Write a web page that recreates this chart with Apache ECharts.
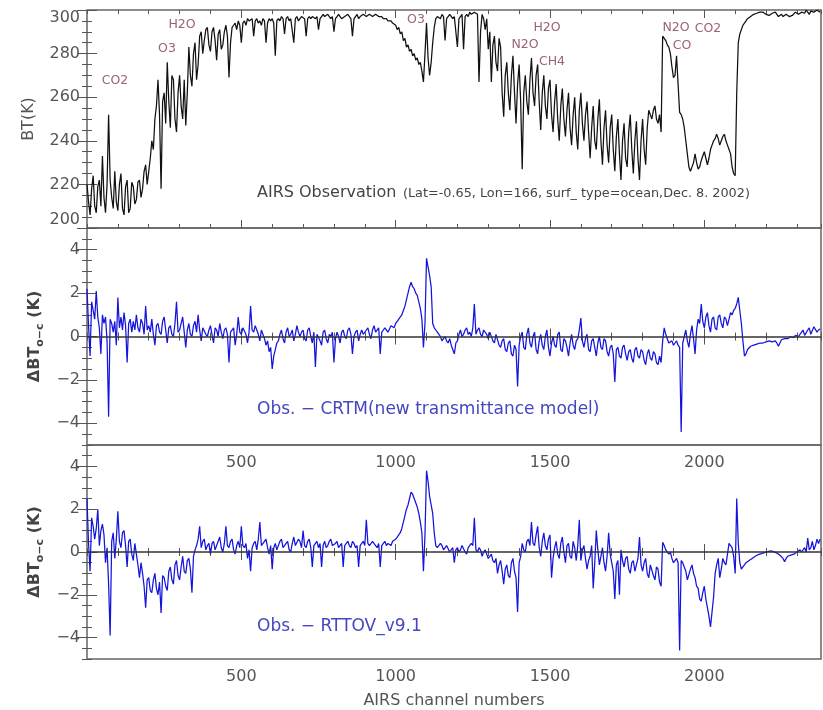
<!DOCTYPE html>
<html>
<head>
<meta charset="UTF-8">
<title>AIRS observation and O-C</title>
<style>
  html, body { margin: 0; padding: 0; background: #fff; }
  #chart { width: 823px; height: 710px; }
</style>
</head>
<body>
<div id="chart"></div>
<script src="https://cdn.jsdelivr.net/npm/echarts@6/dist/echarts.min.js"></script>
<script>
const chStep = 5;

// top panel: observed brightness temperature (K)
const btObs = [
  220, 212, 206, 218, 224, 210, 207, 219, 222, 210, 233, 214, 207, 220, 252, 222, 214, 209, 226, 212,
  208, 220, 225, 209, 206, 219, 222, 207, 209, 221, 219, 211, 213, 221, 222, 214, 218, 226, 229, 220,
  226, 232, 240, 236, 250, 256, 268, 252, 218, 258, 262, 248, 276, 258, 246, 270, 268, 250, 244, 262,
  270, 256, 250, 268, 247, 262, 283, 270, 265, 280, 285, 268, 275, 288, 290, 280, 286, 291, 292, 284,
  281, 290, 292, 286, 277, 289, 291, 282, 284, 290, 293, 288, 269, 285, 292, 293, 294, 291, 295, 293,
  285, 294, 295, 293, 296, 295, 295, 296, 288, 295, 296, 294, 295, 293, 296, 295, 285, 294, 296, 295,
  296, 294, 279, 295, 296, 295, 297, 296, 289, 296, 297, 295, 296, 296, 285, 296, 297, 295, 296, 297,
  297, 296, 288, 296, 297, 296, 297, 297, 296, 297, 291, 296, 297, 298, 297, 297, 298, 297, 296, 297,
  290, 296, 297, 298, 297, 296, 296, 297, 297, 298, 297, 296, 288, 296, 297, 298, 296, 297, 297, 298,
  298, 297, 297, 298, 298, 297, 297, 298, 298, 297, 297, 297, 296, 296, 296, 295, 295, 295, 294, 294,
  293, 291, 292, 289, 290, 286, 287, 283, 284, 281, 282, 279, 280, 277, 278, 275, 276, 272, 267, 280,
  294, 278, 270, 276, 285, 292, 296, 297, 297, 296, 298, 297, 286, 296, 297, 298, 298, 296, 297, 297,
  283, 296, 297, 298, 282, 297, 298, 297, 299, 298, 298, 299, 299, 298, 267, 290, 298, 296, 291, 296,
  282, 290, 267, 284, 288, 276, 272, 287, 283, 262, 251, 270, 276, 262, 254, 270, 279, 262, 248, 266,
  275, 258, 227, 262, 270, 258, 252, 268, 278, 262, 256, 270, 275, 258, 245, 262, 270, 256, 250, 264,
  268, 252, 244, 258, 266, 250, 240, 256, 264, 250, 242, 254, 262, 246, 238, 252, 260, 244, 236, 254,
  262, 248, 240, 252, 258, 244, 232, 246, 256, 240, 236, 250, 259, 240, 229, 246, 254, 238, 230, 246,
  252, 236, 226, 242, 250, 234, 222, 240, 248, 232, 228, 244, 252, 236, 225, 240, 249, 232, 222, 240,
  250, 236, 229, 246, 254, 252, 250, 254, 256, 250, 248, 252, 244, 288, 288, 286, 284, 283, 280, 274,
  269, 270, 279, 266, 253, 252, 250, 246, 240, 234, 228, 226, 226, 230, 234, 230, 227, 228, 231, 233,
  235, 232, 229, 232, 236, 238, 240, 241, 243, 241, 238, 240, 242, 243, 240, 238, 236, 234, 228, 225,
  224, 262, 285, 289, 291, 293, 294, 295, 296, 296.5, 297, 297.5, 298, 298, 298.5, 299, 299, 298.5, 299, 298.5,
  298, 298.5, 297.5, 298, 298.5, 299, 299, 298, 297, 297.5, 298, 297, 297, 298, 298, 297, 296.5, 297.5, 298, 299,
  299.5, 298, 297.5, 299, 299.5, 298.5, 300, 299, 298, 299.5, 300, 299, 298.5, 300, 300, 299
];

// middle panel: obs - CRTM (K)
const dCrtm = [
  2.2, 0.5, -0.9, 1.6, 1.2, 0.8, 2.1, 0.9, 0.4, -0.8, 1.0, 0.6, 0.9, -0.2, -3.7, 0.8, 0.6, 0.2, 0.7, -0.4,
  1.8, 0.4, 0.9, 0.3, 1.1, 0.5, -1.2, 0.6, 0.8, 0.2, 0.7, 0.3, 1.0, 0.4, 0.2, 0.8, 0.6, 0.1, 1.4, 0.3,
  0.5, 0.2, 0.8, 0.1, -0.4, 0.5, 0.6, 0.2, 0.1, 0.7, 0.9, 0.3, -0.3, 0.4, 0.5, 0.1, 0.0, 0.6, 1.6, 0.2,
  0.3, 0.6, 0.9, 0.2, -0.5, 0.3, 0.6, 0.1, 0.0, 0.5, 0.7, 0.2, 1.0, 0.3, -0.2, 0.4, 0.4, 0.1, 0.0, 0.3,
  0.5, 0.1, -0.3, 0.4, 0.3, 0.0, 0.6, 0.2, -0.1, 0.3, 0.4, 0.1, -1.2, 0.2, 0.2, 0.4, -0.4, 0.1, 0.9, 0.2,
  0.1, 0.4, 0.4, 0.1, -0.3, 0.2, 1.4, 0.3, 0.2, 0.5, 0.5, 0.1, -0.2, 0.3, 0.3, -0.1, -0.4, -0.2, -0.7, -0.5,
  -1.5, -0.9, -0.6, -0.3, -0.2, 0.1, 0.3, -0.1, -0.3, 0.2, 0.4, 0.0, 0.1, 0.3, -0.2, 0.1, 0.5, 0.2, 0.0, 0.2,
  0.3, -0.1, -0.2, 0.3, 0.4, 0.0, -0.3, 0.2, -1.4, 0.1, 0.1, -0.2, -0.4, 0.2, 0.3, -0.1, -0.3, 0.1, 0.0, 0.2,
  -1.2, -0.1, 0.2, 0.0, -0.3, 0.2, 0.3, 0.0, -0.1, 0.3, 0.4, 0.1, -0.8, 0.0, 0.2, 0.3, -0.2, 0.1, 0.3, 0.1,
  0.1, 0.3, 0.4, 0.1, -0.1, 0.3, 0.5, 0.2, 0.2, 0.4, -0.8, 0.2, 0.3, 0.4, 0.4, 0.2, 0.2, 0.5, 0.5, 0.4,
  0.6, 0.7, 0.8, 0.9, 1.0, 1.2, 1.4, 1.7, 2.0, 2.3, 2.5, 2.3, 2.2, 2.0, 1.9, 1.6, 1.3, 0.8, -0.5, 0.6,
  3.6, 3.2, 2.8, 2.3, 0.6, 0.4, 0.3, 0.2, 0.1, 0.0, -0.2, -0.1, 0.0, -0.2, -0.3, -0.1, -0.4, -0.6, -0.8, -0.3,
  -0.2, 0.1, 0.3, 0.0, 0.1, 0.3, 0.4, 0.1, 0.2, 0.0, 0.4, 1.5, 0.1, 0.3, 0.4, 0.1, 0.0, 0.3, 0.3, 0.1,
  -0.1, 0.2, 0.2, -0.2, -0.3, 0.1, 0.1, -0.4, -0.5, -0.2, -0.1, -0.6, -0.7, -0.3, -0.2, -0.8, -0.9, -0.4, -0.6, -2.3,
  -0.4, 0.0, 0.2, -0.5, -0.6, 0.1, 0.4, -0.3, -0.5, 0.0, 0.2, -0.6, -0.8, -0.2, 0.1, -0.4, -0.6, 0.0, 0.3, -0.5,
  -0.9, -0.3, 0.0, -0.4, -0.5, 0.1, 0.2, -0.6, -0.7, -0.1, -0.2, -0.5, -0.9, -0.3, 0.1, -0.4, -0.6, -0.2, -0.1, 0.3,
  0.85, -0.2, -0.5, -0.1, 0.1, -0.6, -0.7, -0.2, -0.1, -0.5, -0.9, -0.3, 0.0, -0.5, -0.6, -0.1, -0.2, -0.7, -0.9, -0.5,
  -0.4, -0.8, -2.1, -0.6, -0.5, -0.9, -1.0, -0.5, -0.4, -0.8, -1.1, -0.7, -0.6, -1.0, -1.2, -0.6, -0.5, -0.9, -1.0, -0.6,
  -0.7, -1.1, -1.3, -0.8, -0.6, -1.0, -1.1, -0.7, -0.8, -1.2, -1.3, -0.9, -1.2, -0.2, 0.4, 0.1, -0.1, -0.3, -0.3, -0.2,
  -0.4, -0.3, -0.2, -0.4, -0.5, -4.4, -0.3, 0.0, 0.3, -0.2, -0.5, 0.1, 0.5, -0.1, -0.8, 0.3, 0.8, 0.6, 1.5, 0.7,
  0.4, 0.9, 1.1, 0.5, 0.2, 0.8, 0.9, 0.4, 0.3, 0.9, 1.0, 0.6, 0.4, 0.9, 0.8, 0.5, 0.5, 1.1, 1.0, 1.2,
  1.3, 1.5, 1.8, 1.2, 0.6, -0.2, -0.9, -0.8, -0.6, -0.55, -0.45, -0.45, -0.4, -0.4, -0.35, -0.35, -0.3, -0.3, -0.3, -0.28,
  -0.25, -0.25, -0.2, -0.22, -0.25, -0.2, -0.2, -0.3, -0.45, -0.3, -0.15, -0.12, -0.1, -0.1, -0.1, -0.05, 0.0, -0.05, -0.05, 0.05,
  0.1, 0.0, 0.0, 0.2, 0.3, 0.05, 0.05, 0.3, 0.4, 0.1, 0.1, 0.45, 0.5, 0.2, 0.3, 0.35
];

// bottom panel: obs - RTTOV v9.1 (K)
const dRttov = [
  2.5, 0.4, -0.9, 1.6, 1.2, 0.6, 1.1, 2.0, 0.3, 1.0, 1.3, 0.8, -0.5, 0.2, -1.5, -3.9, 0.5, 0.9, -0.3, 0.6,
  1.9, 0.5, 0.2, 0.9, 1.0, 0.3, -0.7, 0.5, 0.6, -0.1, -0.4, 0.4, 0.4, -0.6, -1.2, -0.5, -1.0, -1.6, -2.6, -1.3,
  -1.2, -1.8, -1.9, -1.3, -1.0, -1.7, -2.0, -1.4, -2.85, -1.1, -1.2, -1.6, -1.8, -0.9, -0.7, -1.3, -1.5, -0.6, -0.4, -1.1,
  -1.3, -0.7, -0.2, -0.9, -1.0, -0.4, -0.3, -0.8, -1.9, -0.2, 0.1, 0.3, 0.6, 1.2, 0.2, 0.5, 0.6, 0.1, 0.3, 0.4,
  -0.1, 0.4, 0.5, 0.1, 0.1, 0.5, 0.7, 0.2, 0.0, 0.4, 1.2, 0.3, 0.2, 0.5, 0.6, 0.1, -0.1, 0.3, 0.5, 0.2,
  1.2, 0.3, 0.2, 0.4, -0.3, 0.1, -0.9, 0.2, 0.4, 0.5, 0.1, 0.6, 1.4, 0.3, 0.3, 0.5, 0.6, 0.2, -0.1, 0.3,
  -0.8, 0.2, 0.4, 0.1, 0.1, 0.5, 0.6, 0.2, 0.2, 0.4, 0.5, 0.1, 0.0, 0.4, 0.7, 0.3, 0.3, 0.6, 0.5, 0.2,
  1.0, 0.3, 0.2, 0.5, 0.6, 0.2, -0.7, 0.3, 0.4, 0.5, 0.2, 0.4, -0.7, 0.3, 0.5, 0.2, 0.3, 0.5, 0.6, 0.3,
  0.3, 0.4, 0.5, 0.2, 0.2, 0.4, -0.7, 0.3, 0.4, 0.5, 0.3, 0.2, 0.5, 0.4, 0.2, 0.3, -0.7, 0.3, 0.4, 0.5,
  0.3, 1.5, 0.4, 0.3, 0.3, 0.5, 0.5, 0.3, 0.2, 0.4, -0.7, 0.3, 0.4, 0.5, 0.3, 0.4, 0.4, 0.3, 0.5, 0.5,
  0.6, 0.7, 0.75, 0.9, 1.1, 1.4, 1.7, 2.0, 2.2, 2.5, 2.8, 2.7, 2.5, 2.3, 2.1, 1.8, 1.4, 0.9, -0.9, 0.8,
  3.8, 3.3, 2.6, 2.2, 1.8, 0.9, 0.3, 0.2, 0.2, 0.4, 0.3, 0.1, 0.1, 0.3, 0.3, 0.0, 0.0, 0.2, -0.5, 0.1,
  0.2, 0.0, 0.1, 0.3, 0.3, 0.0, -0.1, 0.2, 0.2, 0.4, 0.3, 1.6, 0.1, 0.0, 0.2, 0.1, -0.2, 0.0, 0.1, -0.1,
  -0.3, -0.2, -0.1, -0.4, -0.5, -0.3, -1.0, -0.6, -0.4, -0.9, -1.5, -0.8, -0.6, -1.1, -1.2, -0.5, -0.3, -0.9, -1.2, -2.8,
  -0.5, -0.2, 0.4, 0.1, 0.0, 0.5, 0.6, 0.3, 1.4, 0.4, 0.3, 0.8, 1.2, 0.2, -0.2, 0.5, 0.9, 0.3, 0.1, 0.6,
  0.8, -1.2, -0.3, 0.2, 0.5, -0.1, -0.3, 0.4, 0.7, 0.0, -0.5, 0.3, 0.4, -0.2, -0.3, 0.5, 0.2, -0.4, 0.3, 1.5,
  -0.4, 0.1, 0.3, -0.3, -0.8, -0.4, -0.2, 0.3, -1.7, -0.5, 1.0, 0.1, -0.6, -0.2, 0.2, -0.5, -0.9, -0.2, 0.9, -0.1,
  -0.5, -0.9, -2.2, -0.6, -0.4, -2.0, 0.1, -0.4, -0.7, -0.3, -0.2, -0.8, -1.0, -0.5, -0.4, -0.9, -0.6, -0.3, 0.7, -0.6,
  -0.9, -0.5, -0.3, -1.0, -1.2, -0.6, -0.6, -1.1, -1.3, -0.7, -0.8, -1.4, -1.6, 0.45, 0.3, 0.1, 0.1, -0.1, 0.0, -0.3,
  -0.5, -0.4, -0.3, -0.5, -4.6, -0.4, -0.5, -0.7, -0.9, -1.3, -1.3, -0.8, -0.6, -1.0, -1.2, -1.6, -1.7, -2.2, -2.3, -1.9,
  -1.6, -2.2, -2.6, -3.0, -3.5, -2.8, -2.1, -1.0, -0.6, -0.3, -1.2, -0.8, -0.3, -0.5, -0.6, -0.1, 0.4, 0.3, 0.2, -0.2,
  -1.0, 2.5, 0.4, -0.5, -0.8, -0.7, -0.6, -0.5, -0.45, -0.4, -0.35, -0.3, -0.25, -0.2, -0.15, -0.12, -0.1, -0.08, -0.05, -0.03,
  0.0, 0.02, 0.05, 0.05, 0.05, 0.02, 0.0, -0.05, -0.1, -0.15, -0.2, -0.3, -0.45, -0.3, -0.2, -0.15, -0.15, -0.1, -0.1, -0.05,
  0.0, 0.05, 0.1, 0.0, 0.05, 0.2, 0.0, 0.65, 0.1, 0.2, 0.5, 0.1, 0.3, 0.6, 0.4, 0.6
];

const channels = btObs.map((_, i) => i * chStep);
const xLabels = [500, 1000, 1500, 2000];
const btLabels = [200, 220, 240, 260, 280, 300];
const dLabels = [-4, -2, 0, 2, 4];

const font = 'DejaVu Sans';
const gray = '#555';
const minus = v => String(v).replace('-', '\u2212');

function tick(len, custom) {
  const t = { show: true, inside: true, length: len, lineStyle: { color: gray, width: 1 } };
  if (custom) t.customValues = custom;
  return t;
}

// 4 x axes per grid: bottom minor/major, top minor/major
function xAxes(g, bottomLabels, topLabels) {
  const base = { type: 'value', gridIndex: g, min: 0, max: 2378, axisLine: { show: false }, splitLine: { show: false } };
  const lab = (show, inside) => show
    ? { show: true, inside: inside, customValues: xLabels, color: gray, fontSize: 16, fontFamily: font, margin: 10, formatter: v => String(v) }
    : { show: false };
  const bottom = { ...base, position: 'bottom', interval: 100, axisTick: tick(4), axisLabel: lab(bottomLabels, false) };
  if (bottomLabels) {
    bottom.name = 'AIRS channel numbers';
    bottom.nameLocation = 'middle';
    bottom.nameGap = 34;
    bottom.nameTextStyle = { color: gray, fontSize: 16, fontFamily: font };
  }
  return [
    bottom,
    { ...base, position: 'bottom', axisTick: tick(8, xLabels), axisLabel: { show: false } },
    { ...base, position: 'top', interval: 100, axisTick: tick(4), axisLabel: lab(topLabels, true) },
    { ...base, position: 'top', axisTick: tick(8, xLabels), axisLabel: { show: false } }
  ];
}

// 4 y axes per grid: left major(labels)/minor, right major/minor
function yAxes(g, min, max, minorStep, majors, name, nameGap, nameTextStyle, edgeAlign) {
  const base = { type: 'value', gridIndex: g, min: min, max: max, axisLine: { show: false }, splitLine: { show: false } };
  const label = { customValues: majors, color: gray, fontSize: 16, fontFamily: font, margin: 7, formatter: minus };
  if (edgeAlign) {
    label.verticalAlignMinLabel = 'bottom';
    label.verticalAlignMaxLabel = 'top';
  }
  return [
    { ...base, position: 'left', axisTick: tick(10, majors), axisLabel: label,
      name: name, nameLocation: 'middle', nameGap: nameGap, nameTextStyle: nameTextStyle },
    { ...base, position: 'left', interval: minorStep, axisTick: tick(5), axisLabel: { show: false } },
    { ...base, position: 'right', axisTick: tick(10, majors), axisLabel: { show: false } },
    { ...base, position: 'right', interval: minorStep, axisTick: tick(5), axisLabel: { show: false } }
  ];
}

const dName = '{d|\u0394BT}{s|o\u2212c}{d| (K)}';
const dNameStyle = {
  rich: {
    d: { fontSize: 16, fontWeight: 'bold', color: '#444', fontFamily: font, lineHeight: 22 },
    s: { fontSize: 11, fontWeight: 'bold', color: '#444', fontFamily: font, verticalAlign: 'bottom', lineHeight: 12 }
  }
};

const gridBox = { left: 87, right: 2, show: true, borderColor: '#666', borderWidth: 1.5 };

function diffSeries(idx, values) {
  return {
    type: 'line', xAxisIndex: idx, yAxisIndex: idx,
    data: channels.map((c, i) => [c, values[i]]),
    symbol: 'none', lineStyle: { color: '#1414dc', width: 1.25 },
    markLine: {
      silent: true, symbol: 'none', label: { show: false },
      lineStyle: { color: '#333', width: 1.5, type: 'solid' },
      data: [{ yAxis: 0 }]
    }
  };
}

function note(text, x, y, color, size, align) {
  return {
    type: 'text', x: x, y: y, z: 100,
    style: { text: text, fill: color, fontSize: size, fontFamily: font,
      align: align || 'center', verticalAlign: 'middle', textAlign: align || 'center', textVerticalAlign: 'middle' }
  };
}
const mauve = '#9a6474';
const blueText = '#4646c0';

const chart = echarts.init(document.getElementById('chart'));
chart.setOption({
  animation: false,
  backgroundColor: '#fff',
  grid: [
    { ...gridBox, top: 10, height: 218 },
    { ...gridBox, top: 228, height: 217 },
    { ...gridBox, top: 445, height: 217 }
  ],
  xAxis: [...xAxes(0, false, false), ...xAxes(1, false, false), ...xAxes(2, true, true)],
  yAxis: [
    ...yAxes(0, 200, 300, 5, btLabels, 'BT(K)', 50, { color: gray, fontSize: 16, fontFamily: font }, true),
    ...yAxes(1, -5, 5, 0.5, dLabels, dName, 36, dNameStyle, false),
    ...yAxes(2, -5, 5, 0.5, dLabels, dName, 36, dNameStyle, false)
  ],
  series: [
    {
      type: 'line', xAxisIndex: 0, yAxisIndex: 0,
      data: channels.map((c, i) => [c, btObs[i]]),
      symbol: 'none', lineStyle: { color: '#111', width: 1.25 }
    },
    diffSeries(4, dCrtm),
    diffSeries(8, dRttov)
  ],
  graphic: [
    note('CO2', 115, 81, mauve, 12.5),
    note('O3', 167, 49, mauve, 12.5),
    note('H2O', 182, 25, mauve, 12.5),
    note('O3', 416, 20, mauve, 12.5),
    note('H2O', 547, 28, mauve, 12.5),
    note('N2O', 525, 45, mauve, 12.5),
    note('CH4', 552, 62, mauve, 12.5),
    note('N2O', 676, 28, mauve, 12.5),
    note('CO2', 708, 29, mauve, 12.5),
    note('CO', 682, 46, mauve, 12.5),
    note('AIRS Observation', 257, 193, '#444', 16, 'left'),
    note('(Lat=-0.65, Lon=166, surf_ type=ocean,Dec. 8. 2002)', 403, 194, '#444', 12.8, 'left'),
    note('Obs. \u2212 CRTM(new transmittance model)', 257, 410, blueText, 17, 'left'),
    note('Obs. \u2212 RTTOV_v9.1', 257, 627, blueText, 17, 'left')
  ]
});
</script>
</body>
</html>
